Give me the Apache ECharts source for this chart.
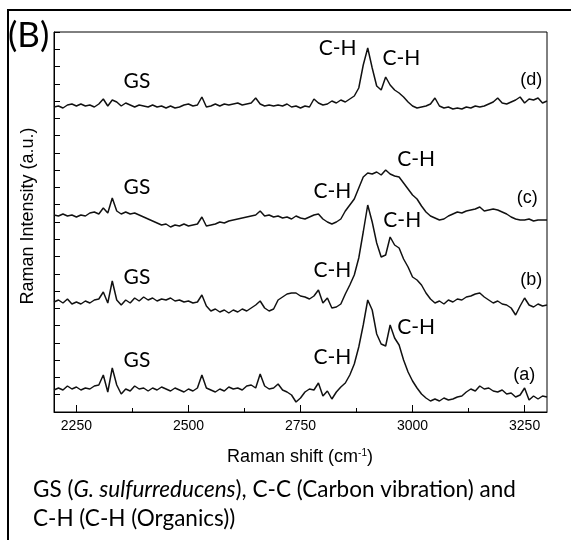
<!DOCTYPE html>
<html>
<head>
<meta charset="utf-8">
<script src="https://cdn.jsdelivr.net/npm/echarts@6/dist/echarts.min.js"></script>
<style>
  html, body { margin: 0; padding: 0; background: #fff; }
  #chart { width: 571px; height: 540px; }
</style>
</head>
<body>
<div id="chart"></div>
<script>
// Raman shift sampling (cm^-1)
const shift = [
  2200,2210,2220,2230,2240,2250,2260,2270,2280,2290,
  2300,2310,2320,2330,2340,2350,2360,2370,2380,2390,
  2400,2410,2420,2430,2440,2450,2460,2470,2480,2490,
  2500,2510,2520,2530,2540,2550,2560,2570,2580,2590,
  2600,2610,2620,2630,2640,2650,2660,2670,2680,2690,
  2700,2710,2720,2730,2740,2750,2760,2770,2780,2790,
  2800,2810,2820,2830,2840,2850,2860,2870,2880,2890,
  2900,2910,2920,2930,2940,2950,2960,2970,2980,2990,
  3000,3010,3020,3030,3040,3050,3060,3070,3080,3090,
  3100,3110,3120,3130,3140,3150,3160,3170,3180,3190,
  3200,3210,3220,3230,3240,3250,3260,3270,3280,3290,
  3300
];

// Stacked spectra (intensity, a.u., offset per sample)
const specA = [
  22,24,22,26,23,25,22,24,23,26,
  27,37,20,44,27,18,23,21,26,23,
  24,21,24,22,25,23,21,24,22,20,
  23,21,24,37,24,22,20,23,21,25,
  23,24,22,26,27,24,38,26,23,24,
  28,22,20,17,10,14,20,23,22,29,
  16,21,13,20,25,29,37,48,65,87,
  112,102,78,68,66,87,74,67,52,40,
  31,24,18,14,11,13,11,14,12,13,
  15,16,20,23,21,26,23,24,21,20,
  22,18,19,15,17,24,12,16,13,16,
  15
];
const specB = [
  110,112,109,113,108,110,108,111,109,112,
  113,120,109,131,112,107,112,109,114,111,
  115,112,114,111,113,112,114,111,112,110,
  111,109,110,117,106,101,103,100,102,99,
  102,100,103,101,104,107,111,104,101,103,
  112,115,118,119,119,116,115,113,116,122,
  109,114,104,105,108,118,127,137,154,180,
  207,190,169,155,157,175,167,164,153,145,
  135,132,127,119,113,109,111,108,112,110,
  113,112,115,116,118,119,115,112,109,111,
  108,107,104,97,106,114,107,105,108,106,
  107
];
const specC = [
  197,196,198,196,197,195,197,196,199,200,
  198,204,199,214,201,198,200,198,199,197,
  195,193,191,189,187,188,185,187,186,188,
  186,187,188,195,186,187,188,190,189,191,
  192,193,194,195,196,197,201,196,197,195,
  196,194,195,193,196,194,193,195,197,198,
  193,190,188,190,193,201,207,213,224,235,
  239,238,240,237,242,238,236,235,229,223,
  217,213,206,200,196,194,192,193,196,198,
  200,199,201,202,203,205,201,202,203,202,
  200,198,195,193,192,192,193,191,192,192,
  192
];
const specD = [
  305,306,304,307,308,306,308,306,307,305,
  308,313,306,312,310,306,309,307,305,307,
  306,305,307,305,306,304,306,304,305,307,
  308,306,307,315,305,306,308,306,308,307,
  308,309,307,308,309,314,308,306,307,306,
  307,306,308,305,306,304,306,305,313,309,
  307,308,311,309,312,310,313,316,324,347,
  364,344,326,322,335,327,322,319,315,310,
  306,304,305,306,308,314,306,304,305,303,
  304,303,305,304,306,305,306,308,310,314,
  309,308,310,312,315,309,313,312,314,309,
  311
];

const traceNames = ['(a)', '(b)', '(c)', '(d)'];
const xMajorTicks = [2250, 2500, 2750, 3000, 3250];
const xMinorTicks = [2375, 2625, 2875, 3125];

// Peak annotations: [text, shift, intensity]
const peakNotes = [
  ['GS', 2385, 331], ['C-H', 2833, 364], ['C-H', 2975, 354],
  ['GS', 2385, 225], ['C-H', 2821, 221], ['C-H', 3008, 253],
  ['GS', 2385, 135], ['C-H', 2821, 142], ['C-H', 2977, 192],
  ['GS', 2385, 52],  ['C-H', 2821, 55],  ['C-H', 3008, 85]
];
// Trace tags: [text, shift, intensity]
const traceTags = [
  ['(d)', 3265, 332], ['(c)', 3256, 214], ['(b)', 3265, 132], ['(a)', 3249, 37]
];

const chart = echarts.init(document.getElementById('chart'), null, { renderer: 'canvas' });

function pairs(ys) { return shift.map((x, i) => [x, ys[i]]); }
const lineStyle = { color: '#111', width: 1.5 };
const spectra = [specA, specB, specC, specD];

chart.setOption({
  animation: false,
  backgroundColor: '#fff',
  grid: {
    left: 54, right: 24, top: 32, bottom: 128,
    show: true, borderColor: '#000', borderWidth: 1, backgroundColor: 'transparent'
  },
  xAxis: [
    {
      type: 'value', min: 2200, max: 3300,
      axisLine: { show: true, onZero: false, lineStyle: { color: '#000', width: 1 } },
      axisTick: { show: true, inside: true, length: 7, customValues: xMajorTicks, lineStyle: { color: '#000' } },
      axisLabel: {
        customValues: xMajorTicks, color: '#000', fontFamily: 'Liberation Sans', fontSize: 14, margin: 7,
        formatter: v => String(v)
      },
      splitLine: { show: false }
    },
    {
      type: 'value', min: 2200, max: 3300, position: 'bottom',
      axisLine: { show: false },
      axisTick: { show: true, inside: true, length: 4, customValues: xMinorTicks, lineStyle: { color: '#000' } },
      axisLabel: { show: false },
      splitLine: { show: false }
    }
  ],
  yAxis: {
    type: 'value', min: 0, max: 380, interval: 380 / 22,
    axisLine: { show: true, onZero: false, lineStyle: { color: '#000', width: 1 } },
    axisTick: { show: true, inside: true, length: 6, lineStyle: { color: '#000' } },
    axisLabel: { show: false },
    splitLine: { show: false }
  },
  series: spectra.map((ys, k) => ({
    name: traceNames[k],
    type: 'line',
    data: pairs(ys),
    showSymbol: false,
    symbol: 'none',
    lineStyle: lineStyle,
    silent: true
  }))
});

// Text placed in data coordinates
const graphics = [];
peakNotes.forEach(([t, x, y]) => {
  const p = chart.convertToPixel({ gridIndex: 0 }, [x, y]);
  graphics.push({
    type: 'text', x: p[0], y: p[1],
    style: { text: t, fontFamily: 'Lato', fontSize: 21, fill: '#000', align: 'center', verticalAlign: 'middle' }
  });
});
traceTags.forEach(([t, x, y]) => {
  const p = chart.convertToPixel({ gridIndex: 0 }, [x, y]);
  graphics.push({
    type: 'text', x: p[0], y: p[1],
    style: { text: t, fontFamily: 'Liberation Sans', fontSize: 18, fill: '#000', align: 'center', verticalAlign: 'middle' }
  });
});

// Axis titles
graphics.push({
  type: 'text', x: 28, y: 216, rotation: Math.PI / 2,
  style: { text: 'Raman Intensity (a.u.)', fontFamily: 'Liberation Sans', fontSize: 18, fill: '#000', align: 'center', verticalAlign: 'middle' }
});
graphics.push({
  type: 'text', x: 300, y: 457,
  style: {
    text: '{b|Raman shift (cm}{s|-1}{b|)}',
    align: 'center', verticalAlign: 'middle',
    rich: {
      b: { fontFamily: 'Liberation Sans', fontSize: 18, color: '#000' },
      s: { fontFamily: 'Liberation Sans', fontSize: 10, color: '#000', verticalAlign: 'top', padding: [0, 0, 8, 0] }
    }
  }
});

// Panel letter
graphics.push({
  type: 'text', x: 8, y: 36,
  style: { text: '(B)', fontFamily: 'Lato', fontSize: 35, fill: '#000', align: 'left', verticalAlign: 'middle' }
});

// Caption
graphics.push({
  type: 'text', x: 33, y: 490,
  style: {
    text: '{n|GS (}{i|G. sulfurreducens}{n|), C-C (Carbon vibration) and}',
    verticalAlign: 'middle',
    rich: {
      n: { fontFamily: 'Lato', fontSize: 22.5, color: '#000' },
      i: { fontFamily: 'Lato', fontSize: 22.5, fontStyle: 'italic', color: '#000' }
    }
  }
});
graphics.push({
  type: 'text', x: 33, y: 519,
  style: { text: 'C-H (C-H (Organics))', fontFamily: 'Lato', fontSize: 22.5, fill: '#000', verticalAlign: 'middle' }
});

// Outer frame (left and top edges)
graphics.push({
  type: 'polyline',
  shape: { points: [[8, 540], [8, 10], [571, 10]] },
  style: { stroke: '#000', lineWidth: 2, fill: null }
});

chart.setOption({ graphic: graphics });
</script>
</body>
</html>
